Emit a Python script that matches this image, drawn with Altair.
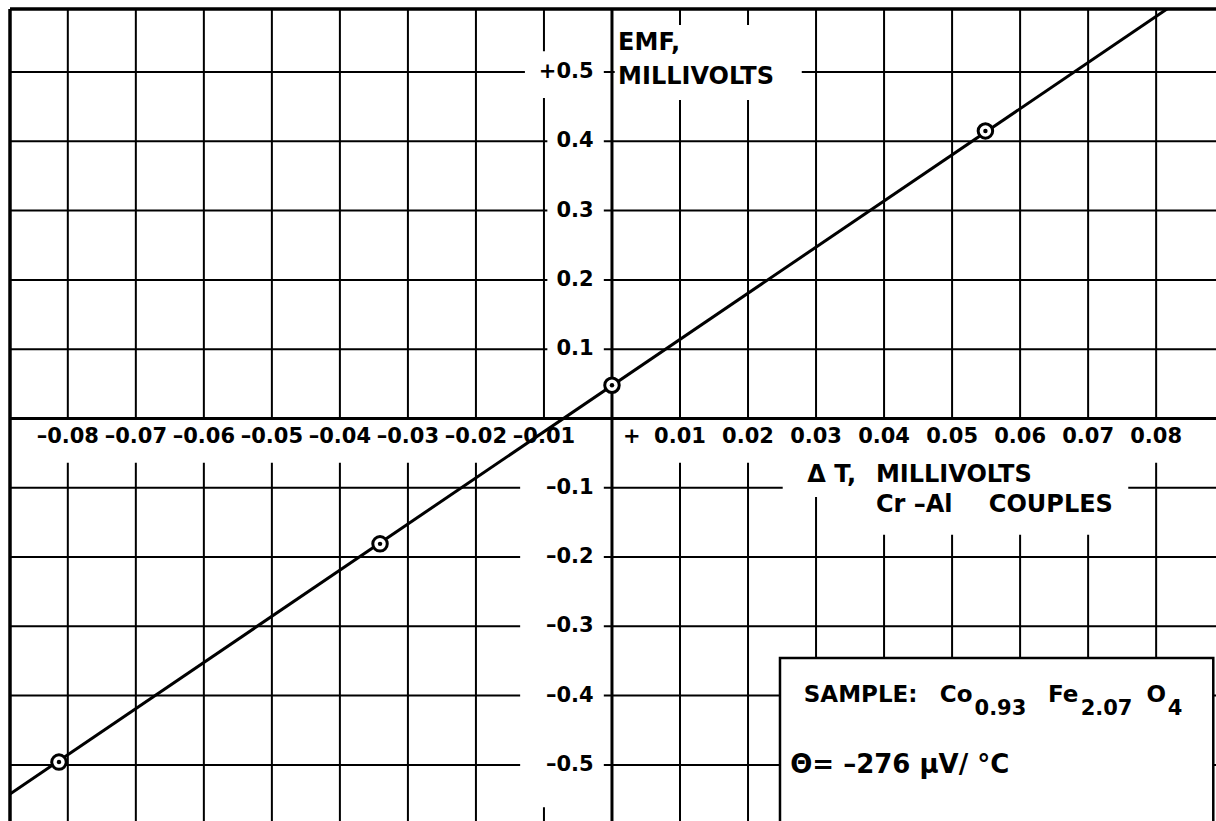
import altair as alt
import pandas as pd

# Measured points: temperature difference (Cr-Al couples, mV) against EMF (mV)
delta_t = [-0.0813, -0.0341, 0.0, 0.0549]
emf = [-0.496, -0.181, 0.048, 0.415]

# Straight line fitted through the points, drawn edge to edge
fit_dt = [-0.0885, 0.0888]
fit_emf = [-0.542, 0.639]

# Tick values and their printed labels
x_ticks = [-0.08, -0.07, -0.06, -0.05, -0.04, -0.03, -0.02, -0.01,
           0.01, 0.02, 0.03, 0.04, 0.05, 0.06, 0.07, 0.08]
x_labels = ["\u20130.08", "\u20130.07", "\u20130.06", "\u20130.05", "\u20130.04",
            "\u20130.03", "\u20130.02", "\u20130.01",
            "0.01", "0.02", "0.03", "0.04", "0.05", "0.06", "0.07", "0.08"]
y_ticks = [0.5, 0.4, 0.3, 0.2, 0.1, -0.1, -0.2, -0.3, -0.4, -0.5]
y_labels = ["+0.5", "0.4", "0.3", "0.2", "0.1",
            "\u20130.1", "\u20130.2", "\u20130.3", "\u20130.4", "\u20130.5"]

# Plot frame (data units)
XMIN, XMAX = -0.0885, 0.0888
YMIN, YMAX = -0.581, 0.591

FONT = "DejaVu Sans"
xs = alt.Scale(domain=[XMIN, XMAX], nice=False, zero=False)
ys = alt.Scale(domain=[YMIN, YMAX], nice=False, zero=False)


def xenc(field="x"):
    return alt.X(f"{field}:Q", scale=xs, axis=None)


def yenc(field="y"):
    return alt.Y(f"{field}:Q", scale=ys, axis=None)


# Graph-paper grid
vgrid = alt.Chart(pd.DataFrame({"x": x_ticks})).mark_rule(
    color="black", strokeWidth=2
).encode(x=xenc())
hgrid = alt.Chart(pd.DataFrame({"y": y_ticks})).mark_rule(
    color="black", strokeWidth=2
).encode(y=yenc())

# White clearings behind the lettering
clear = pd.DataFrame({
    "x":  [XMIN,    -0.0095, -0.0095, -0.0095, -0.0095, -0.0128, -0.0135, 0.0004, 0.0251, 0.0343],
    "x2": [XMAX,    -0.0012, -0.0012, -0.0012, -0.0012, -0.0012, -0.0012, 0.0279, 0.0759, 0.0759],
    "y":  [0.0,      0.422,   0.322,   0.222,   0.122,   0.530,  -0.058,   0.568, -0.058, -0.110],
    "y2": [-0.064,   0.378,   0.278,   0.178,   0.078,   0.4625, -0.561,   0.4597, -0.1134, -0.168],
})
clearings = alt.Chart(clear).mark_rect(color="white", clip=True).encode(
    x=xenc(), x2="x2:Q", y=yenc(), y2="y2:Q"
)

# Main axes through the origin
axes_v = alt.Chart(pd.DataFrame({"x": [0.0]})).mark_rule(
    color="black", strokeWidth=3
).encode(x=xenc())
axes_h = alt.Chart(pd.DataFrame({"y": [0.0]})).mark_rule(
    color="black", strokeWidth=3
).encode(y=yenc())

# Heavy top and left border of the sheet
frame_top = alt.Chart(pd.DataFrame({"y": [YMAX]})).mark_rule(
    color="black", strokeWidth=3.5
).encode(y=yenc())
frame_left = alt.Chart(pd.DataFrame({"x": [XMIN]})).mark_rule(
    color="black", strokeWidth=3.5
).encode(x=xenc())

# Fitted line
fit = alt.Chart(pd.DataFrame({"x": fit_dt, "y": fit_emf})).mark_line(
    color="black", strokeWidth=3, clip=True
).encode(x=xenc(), y=yenc())

# Sample information box
box = alt.Chart(pd.DataFrame({"x": [0.0247], "x2": [0.0884], "y": [-0.3458], "y2": [-0.65]})).mark_rect(
    fill="white", stroke="black", strokeWidth=2.5, clip=True
).encode(x=xenc(), x2="x2:Q", y=yenc(), y2="y2:Q")

# Data points: open circles with a centre dot
pts = pd.DataFrame({"x": delta_t, "y": emf})
rings = alt.Chart(pts).mark_point(
    shape="circle", size=210, filled=False, fill="white", fillOpacity=1,
    color="black", strokeWidth=3, opacity=1
).encode(x=xenc(), y=yenc())
dots = alt.Chart(pts).mark_point(
    shape="circle", size=20, filled=True, color="black", opacity=1
).encode(x=xenc(), y=yenc())


def lettering(df, size, align="left", baseline="middle"):
    return alt.Chart(df).mark_text(
        font=FONT, fontSize=size, fontWeight="bold", color="black",
        align=align, baseline=baseline
    ).encode(x=xenc(), y=yenc(), text="t:N")


xlab = lettering(pd.DataFrame({"x": x_ticks, "y": [-0.0268] * len(x_ticks), "t": x_labels}),
                 21, align="center")
# leading plus sign of the first positive x label
xplus = lettering(pd.DataFrame({"x": [0.0029], "y": [-0.0268], "t": ["+"]}), 21, align="center")
ylab = lettering(pd.DataFrame({"x": [-0.0027] * len(y_ticks), "y": y_ticks, "t": y_labels}),
                 21, align="right")

titles = lettering(pd.DataFrame({
    "x": [0.0009, 0.0009, 0.0287, 0.0388, 0.0388, 0.0554],
    "y": [0.542, 0.4928, -0.0816, -0.0816, -0.125, -0.125],
    "t": ["EMF,", "MILLIVOLTS", "\u0394 T,", "MILLIVOLTS", "Cr \u2013Al", "COUPLES"],
}), 24)

sample_main = lettering(pd.DataFrame({
    "x": [0.0282, 0.0482, 0.0641, 0.0786],
    "y": [-0.4093, -0.4093, -0.4093, -0.4093],
    "t": ["SAMPLE:", "Co", "Fe", "O"],
}), 23, baseline="alphabetic")
sample_sub = lettering(pd.DataFrame({
    "x": [0.0533, 0.0689, 0.0817],
    "y": [-0.4281, -0.4281, -0.4281],
    "t": ["0.93", "2.07", "4"],
}), 21, baseline="alphabetic")
sample_theta = lettering(pd.DataFrame({
    "x": [0.0262], "y": [-0.5118], "t": ["\u0398= \u2013276 \u00b5V/ \u00b0C"],
}), 26, baseline="alphabetic")

chart = alt.layer(
    vgrid, hgrid, clearings, axes_v, axes_h, frame_top, frame_left,
    fit, box, rings, dots, xlab, xplus, ylab, titles,
    sample_main, sample_sub, sample_theta
).properties(
    width=1206, height=812,
    padding={"left": 10, "top": 9, "right": 0, "bottom": 0},
    autosize=alt.AutoSizeParams(type="none"),
    background="white",
).configure_view(stroke=None)

chart.save("out.html", embed_options={"renderer": "svg", "actions": False})
